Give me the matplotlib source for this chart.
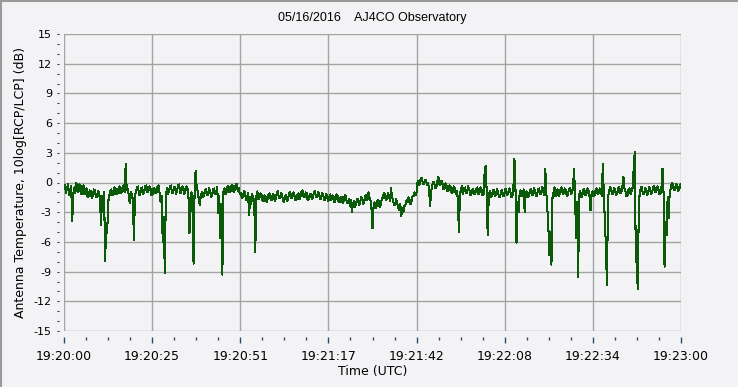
import numpy as np
import matplotlib
matplotlib.use("Agg")
import matplotlib.pyplot as plt
from matplotlib.lines import Line2D

# ---- data ----
sample_step_s = 0.3  # seconds between samples
signal_db = [
    -0.6, -0.2, -1.1, -0.5, -0.2, -1.3, -0.9, -0.4, -3.85, -1.2, -0.5, -1.1, 0.0, -0.7, -1.0, -0.2, -0.3, -1.2, -0.8, -0.3,
    -1.2, -0.7, -0.6, -1.5, -1.4, -0.8, -0.9, -1.6, -1.3, -0.7, -0.8, -1.4, -1.5, -0.9, -1.0, -1.7, -4.3, -1.4, -2.5, -1.0,
    -7.9, -4.2, -5.1, -1.9, -1.4, -0.9, -0.7, -1.3, -1.3, -0.5, -0.6, -1.2, -1.1, -0.6, -0.4, -1.1, -1.0, -0.5, -0.3, -1.0,
    1.9, -0.8, -0.6, -1.3, -2.1, -1.0, -1.2, -1.8, -5.8, -1.3, -0.9, -0.5, -0.4, -1.3, -1.2, -0.6, -0.5, -1.2, -1.0, -0.4,
    -0.3, -1.0, -0.9, -0.4, -0.5, -1.3, -1.2, -0.6, -0.6, -1.1, -1.0, -0.4, -0.3, -1.1, -2.0, -1.4, -6.0, -3.5, -9.1, -1.5,
    -0.6, -1.2, -0.9, -0.4, -0.3, -1.0, -1.1, -0.5, -0.5, -1.2, -0.8, -0.3, -0.2, -1.1, -1.0, -0.4, -0.5, -1.2, -0.9, -0.4,
    -0.6, -1.3, -5.1, -1.6, -1.0, -3.0, -8.2, -0.8, 1.2, -0.5, -0.9, -1.6, -2.3, -1.4, -1.0, -1.5, -1.4, -0.8, -0.7, -1.3,
    -1.2, -0.6, -0.8, -1.5, -1.3, -0.7, -0.6, -1.2, -1.0, -0.5, -3.1, -1.4, -5.6, -2.2, -9.3, -1.0, -0.6, -1.2, -1.0, -0.4,
    -0.4, -1.0, -0.9, -0.3, -0.3, -1.0, -0.8, -0.2, -0.1, -0.9, -0.6, -1.2, -1.1, -1.6, -1.5, -0.9, -1.0, -1.8, -1.6, -1.1,
    -3.3, -1.5, -2.2, -1.2, -1.5, -2.0, -7.05, -1.4, -0.9, -1.7, -1.6, -1.1, -1.2, -1.8, -1.9, -1.3, -1.4, -2.0, -1.7, -1.2,
    -1.1, -1.7, -1.8, -1.2, -1.3, -1.9, -1.6, -1.0, -0.9, -1.6, -1.5, -1.1, -1.2, -1.8, -2.0, -1.4, -1.3, -1.9, -1.6, -1.1,
    -1.0, -1.6, -1.5, -1.0, -1.2, -1.8, -1.8, -1.2, -1.1, -1.7, -1.4, -0.9, -0.8, -1.5, -1.5, -1.0, -1.1, -1.8, -1.7, -1.2,
    -1.2, -1.7, -1.5, -1.0, -0.9, -1.5, -1.4, -1.0, -1.1, -1.7, -1.6, -1.1, -1.2, -1.8, -1.7, -1.2, -1.3, -1.9, -1.5, -1.2,
    -1.8, -1.3, -1.4, -2.0, -1.7, -1.2, -1.3, -1.9, -2.0, -1.5, -1.5, -2.1, -1.8, -1.3, -1.4, -2.0, -2.1, -1.7, -2.4, -1.8,
    -2.95, -2.1, -1.9, -2.5, -2.2, -1.7, -1.7, -2.3, -2.0, -1.5, -1.6, -2.2, -1.9, -1.4, -1.3, -1.8, -1.0, -1.5, -1.8, -2.6,
    -4.6, -2.5, -2.0, -2.6, -2.4, -1.8, -1.9, -2.5, -2.3, -1.7, -1.5, -1.1, -1.2, -1.8, -1.6, -1.1, -1.3, -1.9, -0.6, -1.5,
    -1.8, -2.3, -2.2, -1.7, -2.0, -2.6, -2.8, -2.2, -3.4, -2.6, -3.0, -2.4, -2.3, -1.8, -2.0, -1.5, -1.7, -2.2, -1.9, -1.4,
    -1.4, -1.0, -1.3, -0.9, 0.2, -0.3, -0.1, 0.4, 0.5, -0.1, -0.2, 0.3, 0.3, -0.3, 0.0, -0.6, -2.4, -0.9, -0.4, 0.1,
    0.0, -0.6, -0.5, 0.1, 0.6, -0.2, -0.3, 0.2, -0.1, -0.7, -0.6, -0.1, -0.3, -0.9, -0.8, -0.3, -0.5, -1.1, -1.0, -0.4,
    -0.6, -1.2, -0.9, -1.6, -5.0, -1.3, -0.7, -0.4, -1.2, -0.6, -0.5, -1.1, -1.0, -0.4, -0.6, -1.3, -1.3, -0.7, -0.7, -1.2,
    -1.1, -0.6, -0.5, -1.2, -1.0, -0.5, -0.7, -1.3, -1.2, 0.9, 1.7, -0.8, -5.3, -1.5, -0.9, -1.5, -1.4, -0.8, -0.8, -1.4,
    -1.2, -0.7, -0.9, -1.5, -1.5, -0.9, -0.8, -1.4, -1.3, -0.7, -0.7, -1.3, -1.1, -0.6, -0.9, -1.5, -1.4, -0.6, 2.4, -0.5,
    -6.1, -2.0, -3.0, -1.3, -0.8, -1.4, -1.2, -0.7, -3.0, -1.1, -0.9, -1.5, -1.4, -0.8, -0.7, -1.3, -1.2, -0.6, -0.8, -1.4,
    -1.3, -0.7, -0.6, -1.2, -1.1, -0.5, -0.8, -1.3, 1.4, -1.0, -2.6, -4.5, -7.3, -5.0, -8.3, -1.6, -1.0, -0.5, -1.4, -0.8,
    -0.7, -1.4, -1.2, -0.6, -0.5, -1.2, -1.1, -0.6, -0.8, -1.4, -1.3, -0.7, -0.6, -1.2, -1.0, -0.5, 1.4, -1.5, -5.6, -2.0,
    -9.5, -1.2, -0.9, -1.5, -1.3, -0.7, -0.7, -1.3, -1.2, -0.6, -0.8, -1.4, -2.8, -1.2, -0.9, -1.4, -1.3, -0.7, -0.6, -1.2,
    -1.1, -0.6, -0.8, -1.4, 1.9, -1.5, -4.0, -6.5, -10.4, -1.4, -1.0, -0.5, -0.6, -1.2, -1.2, -0.6, -0.7, -1.3, -1.1, -0.5,
    -0.5, -1.1, -1.0, -0.4, 0.6, -0.6, -0.9, -1.4, -1.3, -0.7, -0.6, -1.2, -0.9, -0.5, 1.5, 3.05, -7.0, -8.5, -10.8, -2.0,
    -1.0, -0.5, -0.5, -1.2, -1.2, -0.6, -0.7, -1.3, -1.1, -0.5, -0.6, -1.2, -1.0, -0.4, -0.4, -1.0, -0.9, -0.4, -0.6, -1.2,
    -1.1, -0.5, 1.4, -1.0, -8.5, -4.0, -5.3, -1.5, -3.6, -1.0, -0.6, -0.1, -0.1, -0.8, -0.8, -0.2, -0.2, -0.9, -0.7, -0.2,
    -0.5,
]
time_s = np.arange(len(signal_db)) * sample_step_s

x_tick_labels = ["19:20:00", "19:20:25", "19:20:51", "19:21:17",
                 "19:21:42", "19:22:08", "19:22:34", "19:23:00"]
y_ticks = [-15, -12, -9, -6, -3, 0, 3, 6, 9, 12, 15]
duration_s = 180.0

title_text = "05/16/2016    AJ4CO Observatory"
x_label = "Time (UTC)"
y_label = "Antenna Temperature, 10log[RCP/LCP] (dB)"

# ---- style ----
W, H = 740, 389
bg = "#F3F3F5"
grid_c = "#A3A3A3"
line_c = "#0A5A0A"
tick_c = "#2F4A66"

fig = plt.figure(figsize=(W / 100, H / 100), dpi=100, facecolor=bg)
ax = fig.add_axes([64 / W, 1 - 331 / H, (681 - 64) / W, (331 - 34) / H])
ax.set_facecolor(bg)

ax.plot(time_s, signal_db, color=line_c, lw=0.75, antialiased=False, zorder=3)

ax.set_xlim(0, duration_s)
ax.set_ylim(-15, 15)

major_x = np.linspace(0, duration_s, len(x_tick_labels))
minor_x = np.linspace(0, duration_s, (len(x_tick_labels) - 1) * 4 + 1)
ax.set_xticks(major_x)
ax.set_xticks(minor_x, minor=True)
ax.set_xticklabels(x_tick_labels)
ax.set_yticks(y_ticks)
ax.set_yticks(np.arange(-15, 16, 1), minor=True)
ax.set_yticklabels([str(v) for v in y_ticks])

ax.grid(True, which="major", color=grid_c, lw=1.0, zorder=1)
for s in ax.spines.values():
    s.set_visible(False)
ax.spines["left"].set_position(("outward", 3.8))
ax.spines["bottom"].set_position(("outward", 4.3))

ax.tick_params(axis="x", which="major", length=4.6, width=1, color=tick_c,
               pad=5, labelsize=9, labelcolor="black")
ax.tick_params(axis="x", which="minor", length=2.2, width=1, color=tick_c)
ax.tick_params(axis="y", which="both", length=1.4, width=0.8, color="#333333",
               pad=3.5, labelsize=8, labelcolor="black")
for lab in ax.get_xticklabels() + ax.get_yticklabels():
    lab.set_fontfamily("DejaVu Sans")

ax.set_xlabel(x_label, fontsize=9, family="DejaVu Sans")
ax.xaxis.set_label_coords(372.5 / W, 1 - 372 / H, transform=fig.transFigure)
ax.xaxis.label.set_va("center")
ax.set_ylabel(y_label, fontsize=9, family="DejaVu Sans")
ax.yaxis.set_label_coords(21 / W, 1 - 182.5 / H, transform=fig.transFigure)
ax.yaxis.label.set_va("center")

fig.text(372 / W, 1 - 18 / H, title_text, ha="center", va="center",
         fontsize=9, family="Liberation Sans")

# sunken window border
fig.add_artist(Line2D([0, 1], [1 - 0.6 / H] * 2, transform=fig.transFigure,
                      color="#9A9A9A", lw=1.5))
fig.add_artist(Line2D([0.6 / W] * 2, [0, 1], transform=fig.transFigure,
                      color="#9A9A9A", lw=1.5))
fig.add_artist(Line2D([0, 1], [0.6 / H] * 2, transform=fig.transFigure,
                      color="#FFFFFF", lw=1.5))
fig.add_artist(Line2D([1 - 0.6 / W] * 2, [0, 1], transform=fig.transFigure,
                      color="#FFFFFF", lw=1.5))

fig.savefig("out.png", dpi=100, facecolor=bg)
